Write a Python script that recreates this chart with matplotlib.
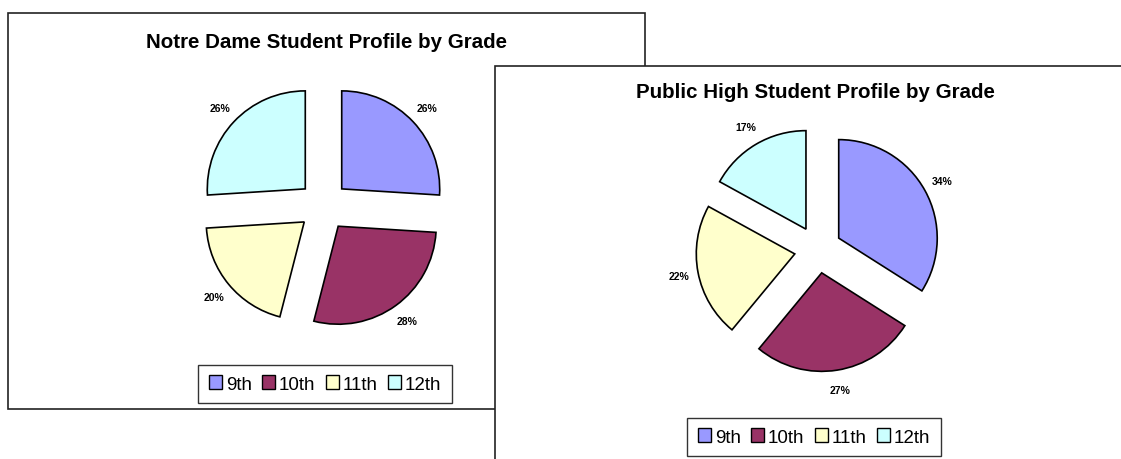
import matplotlib
matplotlib.use("Agg")
import matplotlib.pyplot as plt
from matplotlib.patches import Rectangle, Patch

plt.rcParams["font.family"] = ["Liberation Sans", "DejaVu Sans"]

GRADES = ["9th", "10th", "11th", "12th"]
COLORS = ["#9999FF", "#993366", "#FFFFCC", "#CCFFFF"]

notre_dame = [26, 28, 20, 26]
public_high = [34, 27, 22, 17]

W, H = 1121, 460


def pie_axes(fig, cx, cy, r, span=1.5):
    # square axes whose data units are radius multiples, centred at pixel (cx, cy)
    side = 2 * span * r
    ax = fig.add_axes([(cx - side / 2) / W, (H - cy - side / 2) / H, side / W, side / H])
    return ax, span


def draw_pie(ax, span, values, explode):
    ax.pie(values, colors=COLORS, startangle=90, counterclock=False,
           explode=[explode] * len(values), labels=[f"{v}%" for v in values],
           labeldistance=1.2,
           wedgeprops=dict(edgecolor="black", linewidth=1.2),
           textprops=dict(fontsize=7.5, fontweight="bold", ha="center", va="center"))
    ax.set_xlim(-span, span)
    ax.set_ylim(-span, span)
    ax.set_aspect("equal")
    ax.axis("off")


fig = plt.figure(figsize=(W / 100, H / 100), dpi=100)

bg = fig.add_axes([0, 0, 1, 1])
bg.set_xlim(0, W)
bg.set_ylim(H, 0)
bg.axis("off")

# chart frames: the public high one sits on top of the notre dame one
bg.add_patch(Rectangle((8, 14), 637, 396, facecolor="white", edgecolor="#222222", lw=1.2, zorder=1))
bg.add_patch(Rectangle((495, 67), 640, 400, facecolor="white", edgecolor="#222222", lw=1.2, zorder=2))

bg.text(326, 42, "Notre Dame Student Profile by Grade", ha="center", va="center",
        fontsize=14.8, fontweight="bold", zorder=3)
bg.text(815, 92, "Public High Student Profile by Grade", ha="center", va="center",
        fontsize=14.8, fontweight="bold", zorder=3)

ax1, s1 = pie_axes(fig, 323.5, 207, 98)
draw_pie(ax1, s1, notre_dame, 0.255)

ax2, s2 = pie_axes(fig, 818, 250.5, 98.5)
draw_pie(ax2, s2, public_high, 0.24)

handles = [Patch(facecolor=c, edgecolor="black", linewidth=1) for c in COLORS]
legend_kw = dict(ncol=4, loc="center", frameon=True, fancybox=False, fontsize=13.5,
                 handlelength=0.7, handleheight=0.7, handletextpad=0.2,
                 columnspacing=0.55, borderpad=0.55, edgecolor="black")
leg1 = fig.legend(handles, GRADES, bbox_to_anchor=(325 / W, 1 - 385 / H), **legend_kw)
leg1.get_frame().set_linewidth(1)
leg2 = fig.legend(handles, GRADES, bbox_to_anchor=(814 / W, 1 - 438 / H), **legend_kw)
leg2.get_frame().set_linewidth(1)

fig.savefig("out.png", dpi=100)
